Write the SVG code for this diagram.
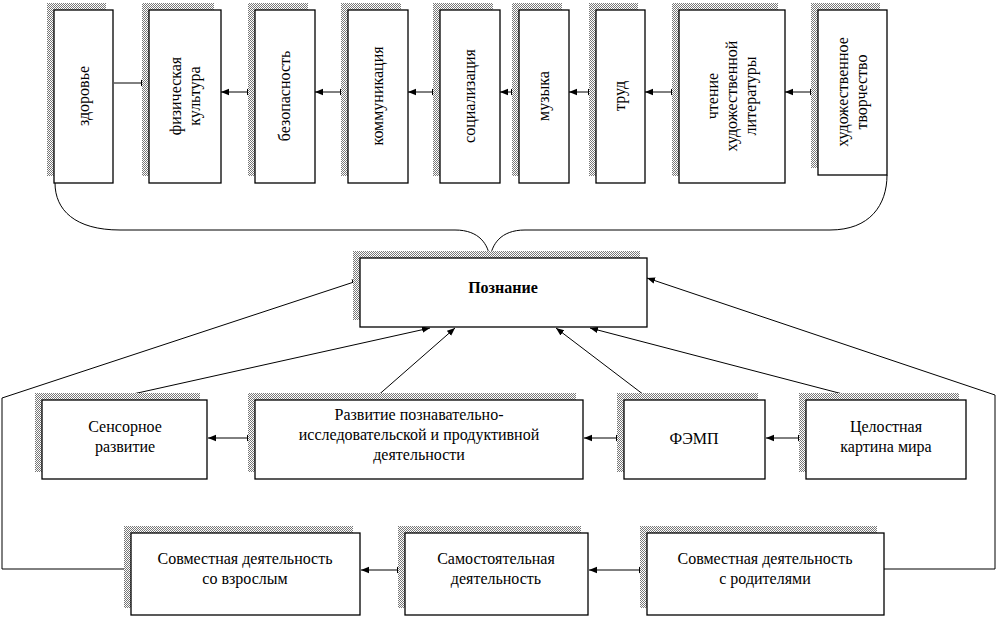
<svg xmlns="http://www.w3.org/2000/svg" width="997" height="619" viewBox="0 0 997 619">
<defs>
<pattern id="sh" width="2" height="2" patternUnits="userSpaceOnUse"><rect width="2" height="2" fill="#fff"/><rect width="1" height="1" fill="#777"/><rect x="1" y="1" width="1" height="1" fill="#777"/></pattern>
<marker id="a" viewBox="0 0 10 10" refX="10" refY="5" markerWidth="8" markerHeight="8" orient="auto" markerUnits="userSpaceOnUse"><path d="M0,1 L10,5 L0,9 Z" fill="#000"/></marker>
</defs>
<style>
.s{fill:url(#sh)}
.b{fill:#fff;stroke:#000;stroke-width:1.3}
text{font-family:"Liberation Serif","DejaVu Serif",serif;font-size:16px;fill:#000;text-anchor:middle}
.c{fill:none;stroke:#000;stroke-width:1}
</style>
<rect width="997" height="619" fill="#fff"/>
<g id="connectors">
<path class="c" d="M55,183 C55,210 75,230 120,230 L455,230 C480,230 488,245 490,258"/>
<path class="c" d="M887,175 C887,205 870,230 830,230 L525,230 C500,230 492,245 490,258"/>
<g marker-end="url(#a)" class="c">
<path d="M131,83 H114 M131,83 H149"/>
<line x1="238" y1="92" x2="221" y2="92"/><line x1="238" y1="92" x2="255" y2="92"/>
<line x1="331" y1="92" x2="315" y2="92"/><line x1="331" y1="92" x2="348" y2="92"/>
<line x1="424" y1="92" x2="408" y2="92"/><line x1="424" y1="92" x2="440" y2="92"/>
<line x1="509" y1="92" x2="500" y2="92"/><line x1="509" y1="92" x2="519" y2="92"/>
<line x1="582" y1="92" x2="569" y2="92"/><line x1="582" y1="92" x2="596" y2="92"/>
<line x1="662" y1="92" x2="645" y2="92"/><line x1="662" y1="92" x2="679" y2="92"/>
<line x1="801" y1="92" x2="785" y2="92"/><line x1="801" y1="92" x2="818" y2="92"/>
<line x1="231" y1="438" x2="208" y2="438"/><line x1="231" y1="438" x2="255" y2="438"/>
<line x1="604" y1="438" x2="584" y2="438"/><line x1="604" y1="438" x2="624" y2="438"/>
<line x1="786" y1="438" x2="766" y2="438"/><line x1="786" y1="438" x2="806" y2="438"/>
<line x1="383" y1="570" x2="361" y2="570"/><line x1="383" y1="570" x2="405" y2="570"/>
<line x1="618" y1="570" x2="589" y2="570"/><line x1="618" y1="570" x2="647" y2="570"/>
<polyline points="131,569 2,569 2,398 360,280"/>
<polyline points="884,569 995,569 995,395 647,278"/>
<line x1="115" y1="398" x2="430" y2="328"/>
<line x1="375" y1="398" x2="455" y2="328"/>
<line x1="648" y1="398" x2="556" y2="328"/>
<line x1="858" y1="398" x2="590" y2="328"/>
</g>
</g>
<g id="n1"><rect class="s" x="47" y="3" width="59" height="173"/><rect class="b" x="54" y="10" width="59" height="173"/><text transform="translate(84,96) rotate(-90)" dy="5">здоровье</text></g>
<g id="n2"><rect class="s" x="142" y="3" width="72" height="173"/><rect class="b" x="149" y="10" width="72" height="173"/><text transform="translate(185,96) rotate(-90)"><tspan x="0" dy="-4">физическая</tspan><tspan x="0" dy="19">культура</tspan></text></g>
<g id="n3"><rect class="s" x="248" y="3" width="60" height="173"/><rect class="b" x="255" y="10" width="60" height="173"/><text transform="translate(285,96) rotate(-90)" dy="5">безопасность</text></g>
<g id="n4"><rect class="s" x="341" y="3" width="60" height="173"/><rect class="b" x="348" y="10" width="60" height="173"/><text transform="translate(378,96) rotate(-90)" dy="5">коммуникация</text></g>
<g id="n5"><rect class="s" x="433" y="3" width="60" height="173"/><rect class="b" x="440" y="10" width="60" height="173"/><text transform="translate(470,96) rotate(-90)" dy="5">социализация</text></g>
<g id="n6"><rect class="s" x="512" y="3" width="50" height="173"/><rect class="b" x="519" y="10" width="50" height="173"/><text transform="translate(544,96) rotate(-90)" dy="5">музыка</text></g>
<g id="n7"><rect class="s" x="589" y="3" width="49" height="173"/><rect class="b" x="596" y="10" width="49" height="173"/><text transform="translate(620,96) rotate(-90)" dy="5">труд</text></g>
<g id="n8"><rect class="s" x="672" y="3" width="106" height="173"/><rect class="b" x="679" y="10" width="106" height="173"/><text transform="translate(732,96) rotate(-90)"><tspan x="0" dy="-14">чтение</tspan><tspan x="0" dy="19">художественной</tspan><tspan x="0" dy="19">литературы</tspan></text></g>
<g id="n9"><rect class="s" x="811" y="3" width="69" height="165"/><rect class="b" x="818" y="10" width="69" height="165"/><text transform="translate(852,92) rotate(-90)"><tspan x="0" dy="-4">художественное</tspan><tspan x="0" dy="19">творчество</tspan></text></g>
<g id="p"><rect class="s" x="353" y="251" width="287" height="69"/><rect class="b" x="360" y="258" width="287" height="69"/><text x="503" y="293" font-weight="bold">Познание</text></g>
<g id="r1"><rect class="s" x="35" y="393" width="165" height="79"/><rect class="b" x="42" y="400" width="165" height="79"/><text x="125" y="432">Сенсорное<tspan x="125" dy="20">развитие</tspan></text></g>
<g id="r2"><rect class="s" x="248" y="393" width="328" height="79"/><rect class="b" x="255" y="400" width="328" height="79"/><text x="419" y="420">Развитие познавательно-<tspan x="419" dy="20">исследовательской и продуктивной</tspan><tspan x="419" dy="20">деятельности</tspan></text></g>
<g id="r3"><rect class="s" x="617" y="393" width="141" height="79"/><rect class="b" x="624" y="400" width="141" height="79"/><text x="694" y="444">ФЭМП</text></g>
<g id="r4"><rect class="s" x="799" y="393" width="160" height="79"/><rect class="b" x="806" y="400" width="160" height="79"/><text x="886" y="432">Целостная<tspan x="886" dy="20">картина мира</tspan></text></g>
<g id="b1"><rect class="s" x="124" y="526" width="229" height="82"/><rect class="b" x="131" y="533" width="229" height="82"/><text x="245" y="564">Совместная деятельность<tspan x="245" dy="20">со взрослым</tspan></text></g>
<g id="b2"><rect class="s" x="398" y="526" width="183" height="82"/><rect class="b" x="405" y="533" width="183" height="82"/><text x="496" y="564">Самостоятельная<tspan x="496" dy="20">деятельность</tspan></text></g>
<g id="b3"><rect class="s" x="640" y="526" width="237" height="82"/><rect class="b" x="647" y="533" width="237" height="82"/><text x="765" y="564">Совместная деятельность<tspan x="765" dy="20">с родителями</tspan></text></g>
</svg>
